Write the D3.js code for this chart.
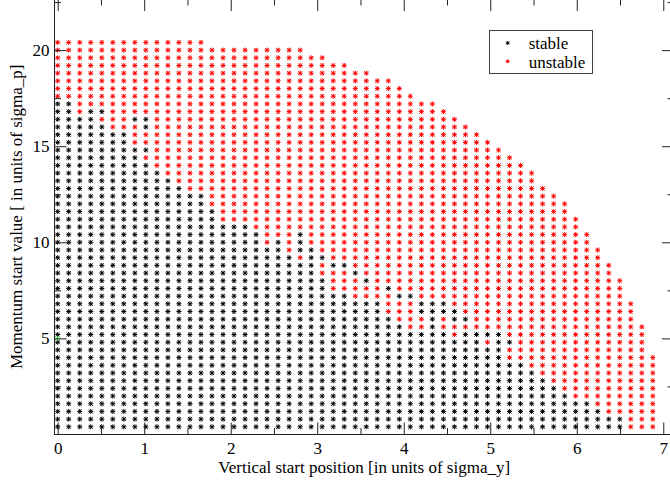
<!DOCTYPE html>
<html><head><meta charset="utf-8">
<script src="https://cdn.jsdelivr.net/npm/d3@7"></script>
<style>html,body{margin:0;padding:0;background:#fff;} svg{display:block;}</style>
</head><body>
<svg id="chart" width="670" height="483"></svg>
<script>
// start positions (columns) in units of sigma_y
const xValues = [0, 0.127, 0.255, 0.382, 0.510, 0.637, 0.764, 0.892, 1.019, 1.147,
  1.274, 1.401, 1.529, 1.656, 1.783, 1.911, 2.038, 2.166, 2.293, 2.420,
  2.548, 2.675, 2.803, 2.930, 3.057, 3.185, 3.312, 3.440, 3.567, 3.694,
  3.822, 3.949, 4.076, 4.204, 4.331, 4.459, 4.586, 4.713, 4.841, 4.968,
  5.096, 5.223, 5.350, 5.478, 5.605, 5.733, 5.860, 5.987, 6.115, 6.242,
  6.370, 6.497, 6.624, 6.752, 6.879];
// momentum start values (rows), top to bottom
const yValues = [20.4, 20.0, 19.6, 19.2, 18.8, 18.4, 18.0, 17.6, 17.2, 16.8,
  16.4, 16.0, 15.6, 15.2, 14.8, 14.4, 14.0, 13.6, 13.2, 12.8,
  12.4, 12.0, 11.6, 11.2, 10.8, 10.4, 10.0, 9.6, 9.2, 8.8,
  8.4, 8.0, 7.6, 7.2, 6.8, 6.4, 6.0, 5.6, 5.2, 4.8,
  4.4, 4.0, 3.6, 3.2, 2.8, 2.4, 2.0, 1.6, 1.2, 0.8, 0.4];
// last tracked column index in each row
const rowLastColumn = [13, 22, 24, 26, 28, 30, 31, 32, 34, 35,
  36, 37, 38, 39, 40, 41, 42, 43, 43, 44,
  45, 46, 46, 47, 47, 48, 48, 49, 49, 50,
  50, 51, 51, 51, 52, 52, 52, 53, 53, 53,
  53, 54, 54, 54, 54, 54, 54, 54, 54, 54, 54];
// column ranges [from, to] that are stable in each row; the rest is unstable
const stableRuns = [
  [], [], [], [], [], [], [], [],
  [[0,1]],
  [[0,1],[3,4]],
  [[0,3],[7,8]],
  [[0,4],[8,8]],
  [[0,6]],
  [[0,6]],
  [[0,8]],
  [[0,7]],
  [[0,8]],
  [[0,9]],
  [[0,10]],
  [[0,11]],
  [[0,13]],
  [[0,13]],
  [[0,14]],
  [[0,14]],
  [[0,17]],
  [[0,18],[22,22]],
  [[0,18],[20,20],[22,22]],
  [[0,20],[22,23]],
  [[0,21],[23,24]],
  [[0,23],[25,26]],
  [[0,23],[27,27]],
  [[0,24],[28,28]],
  [[0,24],[30,30]],
  [[0,26],[31,32]],
  [[0,29],[33,35]],
  [[0,29],[33,36]],
  [[0,30],[34,34],[36,37]],
  [[0,31],[34,34]],
  [[0,35],[37,40]],
  [[0,38],[40,41]],
  [[0,40]],
  [[0,40]],
  [[0,42]],
  [[0,43]],
  [[0,44]],
  [[0,45]],
  [[0,46]],
  [[0,48]],
  [[0,49]],
  [[0,51]],
  [[0,51]]
];
const referencePoint = [[0, 5]];
const seriesNames = ["stable", "unstable"];
const seriesColors = ["#000000", "#ff0000"];
const xMajorTicks = [0, 1, 2, 3, 4, 5, 6, 7];
const xMinorTicks = [0.5, 1.5, 2.5, 3.5, 4.5, 5.5, 6.5];
const yMajorTicks = [5, 10, 15, 20];
const yMinorTicks = [2.5, 7.5, 12.5, 17.5, 22.5];
const xTitle = "Vertical start position [in units of sigma_y]";
const yTitle = "Momentum start value [ in units of sigma_p]";

const svg = d3.select("#chart");
const font = "'Liberation Serif', 'Times New Roman', serif";
const L = 54.5, R = 674, T = -1, B = 434.5;
const x = d3.scaleLinear().domain([-0.037, 7.124]).range([L, R]);
const y = d3.scaleLinear().domain([0, 22.66]).range([B, T]);

// points
const points = [];
yValues.forEach((yv, r) => {
  const runs = stableRuns[r];
  for (let j = 0; j <= rowLastColumn[r]; j++) {
    const st = runs.some(([a, b]) => j >= a && j <= b);
    points.push({x: xValues[j], y: yv, s: st ? 0 : 1});
  }
});

const star = {
  draw(ctx, size) {
    const r = Math.sqrt(size) / 2;
    const d = r * 0.78;
    ctx.moveTo(-r, 0); ctx.lineTo(r, 0);
    ctx.moveTo(0, -r); ctx.lineTo(0, r);
    ctx.moveTo(-d, -d); ctx.lineTo(d, d);
    ctx.moveTo(-d, d); ctx.lineTo(d, -d);
  }
};
const plus = {
  draw(ctx, size) {
    const r = Math.sqrt(size) / 2;
    ctx.moveTo(-r, 0); ctx.lineTo(r, 0);
    ctx.moveTo(0, -r); ctx.lineTo(0, r);
  }
};
const starPath = d3.symbol().type(star).size(25)();
const smallStarPath = d3.symbol().type(star).size(14)();

svg.append("g").selectAll("path").data(points).join("path")
  .attr("d", starPath)
  .attr("transform", d => `translate(${x(d.x)},${y(d.y)})`)
  .attr("fill", "none")
  .attr("stroke", d => seriesColors[d.s])
  .attr("stroke-width", 1);

svg.append("g").selectAll("path").data(referencePoint).join("path")
  .attr("d", d3.symbol().type(plus).size(25)())
  .attr("transform", d => `translate(${x(d[0])},${y(d[1])})`)
  .attr("fill", "none").attr("stroke", "#00cc00").attr("stroke-width", 1);

// axes
function styleAxis(g) {
  g.select(".domain").remove();
  g.selectAll(".tick line").attr("stroke", "#222").attr("stroke-width", 1);
  g.selectAll("text").attr("font-family", font).attr("font-size", 17).attr("fill", "#000");
}
svg.append("g").attr("transform", `translate(0,${B})`)
  .call(d3.axisBottom(x).tickValues(xMajorTicks).tickSize(-12).tickPadding(0).tickFormat(d3.format("d")))
  .call(styleAxis)
  .selectAll("text").attr("y", 19).attr("dy", null);
svg.append("g").attr("transform", `translate(0,${B})`)
  .call(d3.axisBottom(x).tickValues(xMinorTicks).tickSize(-6.5).tickFormat(""))
  .call(styleAxis);
svg.append("g").attr("transform", `translate(0,${T})`)
  .call(d3.axisTop(x).tickValues(xMajorTicks).tickSize(-12).tickFormat(""))
  .call(styleAxis);
svg.append("g").attr("transform", `translate(0,${T})`)
  .call(d3.axisTop(x).tickValues(xMinorTicks).tickSize(-6.5).tickFormat(""))
  .call(styleAxis);
svg.append("g").attr("transform", `translate(${L},0)`)
  .call(d3.axisLeft(y).tickValues(yMajorTicks).tickSize(-12).tickPadding(5).tickFormat(d3.format("d")))
  .call(styleAxis);
svg.append("g").attr("transform", `translate(${L},0)`)
  .call(d3.axisLeft(y).tickValues(yMinorTicks).tickSize(-6.5).tickFormat(""))
  .call(styleAxis);
svg.append("g").attr("transform", `translate(${R},0)`)
  .call(d3.axisRight(y).tickValues(yMajorTicks).tickSize(-12).tickFormat(""))
  .call(styleAxis);
svg.append("g").attr("transform", `translate(${R},0)`)
  .call(d3.axisRight(y).tickValues(yMinorTicks).tickSize(-6.5).tickFormat(""))
  .call(styleAxis);

// frame
svg.append("rect").attr("x", L).attr("y", T).attr("width", R - L).attr("height", B - T)
  .attr("fill", "none").attr("stroke", "#222").attr("stroke-width", 1);

// titles
svg.append("text").attr("x", (L + R) / 2).attr("y", 472.5).attr("text-anchor", "middle")
  .attr("font-family", font).attr("font-size", 17).text(xTitle);
svg.append("text").attr("transform", `translate(21.7,${(T + B) / 2}) rotate(-90)`)
  .attr("text-anchor", "middle").attr("font-family", font).attr("font-size", 17).text(yTitle);

// legend
const lg = svg.append("g");
lg.append("rect").attr("x", 489.5).attr("y", 30.5).attr("width", 103).attr("height", 43)
  .attr("fill", "#fff").attr("stroke", "#444").attr("stroke-width", 1);
seriesNames.forEach((n, i) => {
  const yy = 43 + i * 18.3;
  lg.append("path").attr("d", smallStarPath).attr("transform", `translate(507.7,${yy})`)
    .attr("fill", "none").attr("stroke", seriesColors[i]).attr("stroke-width", 1);
  lg.append("text").attr("x", 528.7).attr("y", yy + 6.3)
    .attr("font-family", font).attr("font-size", 17).text(n);
});
</script>
</body></html>
